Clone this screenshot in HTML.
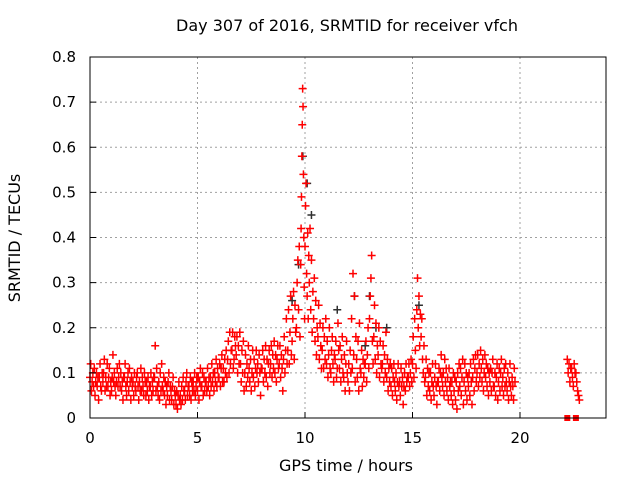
<!DOCTYPE html>
<html><head><meta charset="utf-8"><style>
body{margin:0;background:#fff;}
svg{display:block;font-family:"DejaVu Sans","Liberation Sans",sans-serif;}
</style></head><body>
<svg id="chart" width="640" height="480" viewBox="0 0 640 480">
<rect width="640" height="480" fill="#fff"/>
<g id="grid"></g>
<g id="gray"></g>
<g id="red"></g>
<rect x="90" y="57" width="516" height="361" fill="none" stroke="#000" stroke-width="1"/>
<g id="ticks"></g>
<text x="347" y="31" font-size="16" text-anchor="middle">Day 307 of 2016, SRMTID for receiver vfch</text>
<text x="346" y="471" font-size="16" text-anchor="middle">GPS time / hours</text>
<text x="20" y="238" font-size="16" text-anchor="middle" transform="rotate(-90 20 238)">SRMTID / TECUs</text>
</svg>
<script>
const xTicks=[0,5,10,15,20];
const yTicks=[0,0.1,0.2,0.3,0.4,0.5,0.6,0.7,0.8];
const yTickLabels=["0","0.1","0.2","0.3","0.4","0.5","0.6","0.7","0.8"];
const binHours=[0,0.2,0.4,0.6,0.8,1,1.2,1.4,1.6,1.8,2,2.2,2.4,2.6,2.8,3,3.2,3.4,3.6,3.8,4,4.2,4.4,4.6,4.8,5,5.2,5.4,5.6,5.8,6,6.2,6.4,6.6,6.8,7,7.2,7.4,7.6,7.8,8,8.2,8.4,8.6,8.8,9,9.2,9.4,9.6,9.8,10,10.2,10.4,10.6,10.8,11,11.2,11.4,11.6,11.8,12,12.2,12.4,12.6,12.8,13,13.2,13.4,13.6,13.8,14,14.2,14.4,14.6,14.8,15,15.2,15.4,15.6,15.8,16,16.2,16.4,16.6,16.8,17,17.2,17.4,17.6,17.8,18,18.2,18.4,18.6,18.8,19,19.2,19.4,19.6,22.2,22.4,22.6];
const binValues=[
[.09,.12,.06,.08,.10,.07],[.11,.05,.08,.10,.07,.09],[.04,.09,.12,.07,.06,.10],[.08,.10,.13,.06,.09,.07],[.12,.07,.09,.11,.05,.08],
[.06,.09,.14,.08,.10,.07],[.05,.08,.11,.07,.09,.12],[.07,.10,.06,.08,.04,.09],[.09,.12,.07,.05,.08,.10],[.06,.11,.08,.04,.09,.07],
[.08,.05,.10,.07,.06,.09],[.10,.07,.04,.08,.06,.11],[.06,.09,.07,.05,.10,.08],[.05,.08,.06,.09,.04,.07],[.07,.10,.05,.08,.06,.09],
[.09,.16,.06,.11,.07,.05],[.08,.04,.10,.06,.12,.07],[.06,.09,.05,.08,.03,.07],[.05,.08,.10,.04,.07,.06],[.04,.07,.09,.03,.06,.05],
[.03,.06,.02,.05,.08,.04],[.05,.03,.07,.04,.09,.06],[.06,.04,.08,.10,.05,.07],[.07,.05,.09,.04,.08,.06],[.08,.06,.10,.05,.07,.09],
[.06,.09,.04,.08,.11,.07],[.07,.10,.05,.09,.06,.08],[.08,.06,.11,.07,.09,.05],[.09,.07,.12,.08,.10,.06],[.10,.08,.13,.07,.11,.09],
[.09,.12,.07,.11,.14,.08],[.11,.08,.13,.10,.15,.09],[.13,.17,.10,.19,.12,.15],[.15,.19,.11,.13,.18,.16],[.14,.18,.10,.16,.12,.19],
[.12,.08,.15,.10,.17,.06],[.10,.14,.07,.12,.09,.16],[.11,.08,.13,.06,.10,.15],[.09,.13,.07,.11,.15,.10],[.12,.08,.14,.10,.05,.11],
[.11,.15,.08,.13,.10,.16],[.09,.13,.07,.12,.15,.10],[.12,.16,.09,.14,.11,.17],[.10,.14,.08,.13,.16,.11],[.12,.16,.09,.14,.11,.06],
[.13,.18,.10,.15,.22,.12],[.15,.24,.12,.19,.27,.14],[.17,.22,.28,.13,.25,.19],[.20,.30,.35,.24,.38,.18],
[.34,.42,.49,.58,.65,.73,.69,.54,.40,.29,.22],[.38,.47,.52,.32,.27,.41,.22,.36],[.30,.42,.24,.35,.19,.28],[.22,.31,.17,.26,.14,.20],
[.18,.25,.13,.21,.16,.11],[.15,.20,.11,.18,.13,.22],[.12,.17,.09,.14,.20,.11],[.10,.15,.18,.12,.08,.14],[.13,.17,.09,.11,.21,.15],
[.11,.16,.08,.13,.18,.10],[.09,.14,.06,.12,.17,.10],[.08,.12,.06,.15,.10,.22],[.11,.32,.14,.27,.08,.18],[.13,.09,.17,.06,.21,.11],
[.10,.15,.07,.13,.09,.12],[.12,.17,.08,.14,.20,.11],[.22,.27,.31,.36,.17,.12],[.18,.25,.13,.21,.10,.16],[.14,.20,.09,.17,.12,.11],
[.12,.16,.08,.14,.10,.19],[.09,.13,.06,.11,.08,.12],[.07,.11,.05,.09,.12,.08],[.06,.10,.04,.08,.12,.07],[.08,.05,.11,.07,.09,.03],
[.07,.10,.06,.12,.08,.09],[.09,.12,.07,.10,.13,.08],[.12,.18,.09,.22,.15,.11],[.24,.31,.20,.27,.16,.23],[.18,.22,.13,.10,.16,.08],
[.09,.13,.05,.11,.07,.10],[.06,.10,.04,.08,.12,.07],[.05,.09,.12,.07,.03,.08],[.08,.11,.06,.10,.14,.09],[.07,.10,.05,.13,.08,.11],
[.06,.09,.04,.11,.07,.08],[.05,.08,.03,.10,.06,.09],[.04,.08,.02,.10,.06,.12],[.07,.11,.05,.09,.13,.03],[.08,.12,.06,.10,.04,.09],
[.07,.10,.05,.12,.08,.03],[.09,.13,.06,.11,.14,.08],[.10,.14,.07,.12,.09,.15],[.11,.08,.13,.06,.10,.14],[.09,.12,.07,.11,.05,.10],
[.08,.11,.06,.10,.13,.07],[.07,.10,.05,.09,.12,.04],[.08,.11,.06,.10,.13,.07],[.09,.05,.11,.07,.12,.08],[.06,.10,.04,.08,.12,.07],
[.05,.09,.07,.04,.11,.08],[.13,.10,.12,.08,.11],[.11,.09,.07,.12,.10],[.10,.08,.06,.05,.04]];
const grayHours=[9.7,9.9,10.1,10.3,11.5,12.3,13.0,13.3,15.3,13.8,9.4,12.8];
const grayValues=[0.34,0.58,0.52,0.45,0.24,0.27,0.27,0.20,0.25,0.20,0.26,0.16];
const zeroHours=[22.2,22.6];
const zeroValues=[0,0];

const NS="http://www.w3.org/2000/svg";
const X=h=>90+h*(516/24);
const Y=v=>418-v*451.25;
function mk(tag,attrs,parent){const e=document.createElementNS(NS,tag);for(const k in attrs)e.setAttribute(k,attrs[k]);parent.appendChild(e);return e;}
const grid=document.getElementById('grid'),ticks=document.getElementById('ticks');
xTicks.forEach((t,i)=>{
  if(t>0){const l=mk('line',{x1:X(t),x2:X(t),y1:57,y2:418,stroke:'#a0a0a0','stroke-dasharray':'2,3'},grid);
  
  }
  const tk=mk('line',{x1:X(t),x2:X(t),y1:418,y2:412,stroke:'#000'},ticks);
  
  
  const tx=mk('text',{x:X(t),y:443,'font-size':15,'text-anchor':'middle'},ticks);tx.textContent=String(t);
  
  
});
yTicks.forEach((v,i)=>{
  if(v>0&&v<0.8){const l=mk('line',{x1:90,x2:606,y1:Y(v),y2:Y(v),stroke:'#a0a0a0','stroke-dasharray':'2,3'},grid);
  
  }
  const tk=mk('line',{x1:90,x2:96,y1:Y(v),y2:Y(v),stroke:'#000'},ticks);
  
  
  const tx=mk('text',{x:76,y:Y(v)+5,'font-size':15,'text-anchor':'end'},ticks);tx.textContent=yTickLabels[i];
  
  
});
function plus(g,h,v,color){
  const x=X(h),y=Y(v);
  const p=mk('path',{d:`M${x-4} ${y}h8M${x} ${y-4}v8`,stroke:color,'stroke-width':1.5,fill:'none'},g);
  
  
}
const gray=document.getElementById('gray'),red=document.getElementById('red');
grayHours.forEach((h,i)=>plus(gray,h,grayValues[i],'#303030'));
binHours.forEach((h,j)=>{
  const vals=binValues[j];
  vals.forEach((v,i)=>plus(red,h+i*(0.2/vals.length),v,'#ff0000'));
});
zeroHours.forEach((h,i)=>{
  const r=mk('rect',{x:X(h)-3,y:Y(zeroValues[i])-3,width:6,height:6,fill:'#ff0000'},red);
  
  
});
</script>
</body></html>
